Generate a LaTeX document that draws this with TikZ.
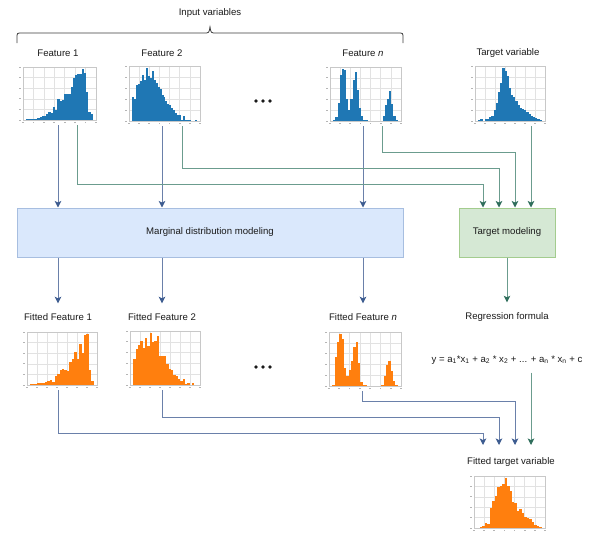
\documentclass[tikz,border=0pt]{standalone}
\usepackage{fontspec}
\setmainfont{Liberation Sans}
\usetikzlibrary{arrows.meta,calc}
\definecolor{histblue}{HTML}{1F77B4}
\definecolor{historange}{HTML}{FF7F0E}
\definecolor{gridc}{HTML}{E2E2E2}
\definecolor{framec}{HTML}{C8C8C8}
\definecolor{tickc}{HTML}{B5B5B5}
\definecolor{bline}{HTML}{6A80AA}
\definecolor{bhead}{HTML}{3D5C90}
\definecolor{gline}{HTML}{6B9C8E}
\definecolor{ghead}{HTML}{2F6E5C}
\definecolor{mfill}{HTML}{DAE8FC}
\definecolor{mdraw}{HTML}{A7BEE0}
\definecolor{tfill}{HTML}{D5E8D4}
\definecolor{tdraw}{HTML}{A3CC8E}
\definecolor{txt}{HTML}{1A1A1A}
\newcommand\hist[7]{%
  \node[inner sep=0pt, minimum width={(#3-#2+6)*1pt}, minimum height={(#5-#4+5)*1pt}] (#1) at ({(#2+#3-6)/2},{(#4+#5+5)/2}) {};
  \foreach \i in {1,...,6} \draw[gridc, line width=0.5pt] ({#2+\i*(#3-#2)/7},#4) -- ++(0,{#5-#4});
  \foreach \i in {1,...,4} \draw[gridc, line width=0.5pt] (#2,{#4+\i*(#5-#4)/5}) -- (#3,{#4+\i*(#5-#4)/5});
  \gdef\histN{0}%
  \foreach \hv in {#7}{\xdef\histN{\the\numexpr\histN+1\relax}}%
  \foreach \hv [count=\k] in {#7}{\fill[#6] ({#2+(#3-#2)*(0.045+0.91*(\k-1)/\histN)},#5) rectangle ({#2+(#3-#2)*(0.045+0.91*\k/\histN)},{#5-\hv*(#5-#4)*0.96});}
  \draw[framec, line width=0.5pt] (#2,#4) rectangle (#3,#5);
  \foreach \i in {0,...,7} \fill[tickc] ({#2+\i*(#3-#2)/7-0.9},{#5+2.2}) rectangle ++(1.8,1.1);
  \foreach \i in {0,...,5} \fill[tickc] ({#2-4.5},{#5-\i*(#5-#4)/5-0.5}) rectangle ++(2.8,1.1);
}
\tikzset{
  lbl/.style={font=\fontsize{9.6}{11}\selectfont, text=txt, inner sep=2pt},
  barrow/.style={draw=bline, line width=1pt, -{Stealth[length=6.5pt,width=6.5pt,inset=1.5pt,color=bhead]}},
  garrow/.style={draw=gline, line width=1pt, -{Stealth[length=6.5pt,width=6.5pt,inset=1.5pt,color=ghead]}},
  mbox/.style={draw=mdraw, fill=mfill, line width=1pt, font=\fontsize{9.6}{11}\selectfont, text=txt, inner sep=0pt},
  tbox/.style={draw=tdraw, fill=tfill, line width=1pt, font=\fontsize{9.6}{11}\selectfont, text=txt, inner sep=0pt},
}
\begin{document}
\begin{tikzpicture}[x=1pt,y=-1pt]
\useasboundingbox (0,0) rectangle (590,533);
% brace
\node[lbl] (iv) at (210,13) {Input variables};
\draw[draw=txt!85, line width=0.8pt] (17,43) -- (17,38) .. controls (17,33) .. (22,33) -- (204,33) .. controls (209,33) .. (210,27) .. controls (211,33) .. (216,33) -- (398,33) .. controls (403,33) .. (403,38) -- (403,43);
% top labels
\node[lbl] (l1) at (58,53) {Feature 1};
\node[lbl] (l2) at (162,53) {Feature 2};
\node[lbl] (ln) at (363,53) {Feature \textit{n}};
\node[lbl] (lt) at (508,53) {Target variable};
% top histograms
\hist{h1}{23}{96}{67}{120}{histblue}{0.01,0.01,0.01,0.01,0.02,0.03,0.05,0.07,0.08,0.12,0.15,0.13,0.25,0.2,0.42,0.38,0.4,0.52,0.52,0.52,0.65,0.82,0.88,0.9,0.9,1.0,0.92,0.55,0.15,0.12}
\hist{h2}{129}{200}{66}{121}{histblue}{0.45,0.42,0.68,0.7,0.75,0.88,0.78,1.0,0.85,0.82,0.95,0.78,0.72,0.65,0.6,0.5,0.45,0.38,0.32,0.3,0.25,0.2,0.15,0.12,0.12,0.02,0.1,0.02,0.02,0.01,0.0,0.0,0.02}
\hist{hn}{330}{401}{67}{121}{histblue}{0.02,0.08,0.35,0.88,1.0,0.98,0.42,0.22,0.42,0.8,0.95,0.6,0.25,0.1,0.02,0.01,0,0,0,0,0,0,0,0.1,0.3,0.42,0.58,0.32,0.1,0.02}
\hist{ht}{475}{545}{66}{121}{histblue}{0.02,0.03,0.0,0.04,0.04,0.07,0.1,0.2,0.35,0.55,0.72,1.0,0.95,0.85,0.62,0.5,0.45,0.38,0.3,0.25,0.22,0.2,0.17,0.13,0.1,0.08,0.05,0.03,0.01}
% dots
\foreach \dx in {256,263,270} \fill[txt] (\dx,101) circle (1.8);
\foreach \dx in {256,263,270} \fill[txt] (\dx,367) circle (1.8);
% boxes
\node[mbox, minimum width=386pt, minimum height=49pt] (mb) at (210,232.5) {Marginal distribution modeling};
\node[tbox, minimum width=96pt, minimum height=49pt] (tm) at (507,232.5) {Target modeling};
\coordinate (t1) at ([xshift=-24pt]tm.north);
\coordinate (t2) at ([xshift=-8pt]tm.north);
\coordinate (t3) at ([xshift=8pt]tm.north);
\coordinate (t4) at ([xshift=24pt]tm.north);
\coordinate (k1) at (77,184);
\coordinate (k2) at (182,168);
\coordinate (kn) at (382,152);
% top connectors
\draw[barrow] (h1.south -| l1) -- (mb.north -| l1);
\draw[barrow] (h2.south -| l2) -- (mb.north -| l2);
\draw[barrow] (hn.south -| ln) -- (mb.north -| ln);
\draw[garrow] (h1.south -| k1) -- (k1) -| (t1);
\draw[garrow] (h2.south -| k2) -- (k2) -| (t2);
\draw[garrow] (hn.south -| kn) -- (kn) -| (t3);
\draw[garrow] (ht.south -| t4) -- (t4);
% fitted labels
\node[lbl] (fl1) at (58,317) {Fitted Feature 1};
\node[lbl] (fl2) at (162,317) {Fitted Feature 2};
\node[lbl] (fln) at (363,317) {Fitted Feature \textit{n}};
\node[lbl] (rf) at (507,317) {Regression formula};
\node[lbl] (fm) at (507,360) {y = a\textsubscript{1}*x\textsubscript{1} + a\textsubscript{2} * x\textsubscript{2} + ... + a\textsubscript{n} * x\textsubscript{n} + c};
\draw[barrow] (mb.south -| fl1) -- ([yshift=8pt]fl1.north);
\draw[barrow] (mb.south -| fl2) -- ([yshift=8pt]fl2.north);
\draw[barrow] (mb.south -| ln) -- ([yshift=8pt]fln.north -| ln);
\draw[garrow] (tm.south) -- ([yshift=8pt]rf.north);
% fitted histograms
\hist{f1}{27}{97}{332}{385}{historange}{0.01,0.02,0.01,0.03,0.03,0.04,0.05,0.07,0.09,0.06,0.17,0.22,0.3,0.32,0.3,0.27,0.45,0.52,0.65,0.52,0.8,0.62,0.98,1.0,0.3,0.08}
\hist{f2}{130}{200}{331}{385}{historange}{0.5,0.7,0.78,0.85,0.72,0.9,0.75,1.0,0.82,0.85,0.95,0.55,0.55,0.55,0.4,0.3,0.28,0.2,0.18,0.12,0.08,0.12,0.02,0.04,0.0,0.03,0.0}
\hist{fn}{329}{401}{332}{386}{historange}{0.02,0.55,0.85,1.0,0.9,0.35,0.2,0.3,0.48,0.75,0.85,0.45,0.08,0.02,0.01,0,0,0,0,0,0,0.01,0.2,0.4,0.48,0.28,0.1,0.02}
% fitted target
\node[lbl] (ftl) at (511,462) {Fitted target variable};
\hist{ft}{474}{545}{476}{528}{historange}{0.01,0.02,0.05,0.1,0.08,0.4,0.55,0.65,0.82,0.85,0.88,1.0,0.85,0.75,0.52,0.5,0.35,0.38,0.3,0.22,0.2,0.18,0.12,0.06,0.05,0.02}
% bottom connectors
\coordinate (u1) at (483,445);
\coordinate (u2) at (499,445);
\coordinate (u3) at (515,445);
\coordinate (u4) at (531,445);
\coordinate (m1) at (58,433);
\coordinate (m2) at (162,417);
\coordinate (mn) at (362,401);
\draw[barrow] (f1.south -| m1) -- (m1) -| (u1);
\draw[barrow] (f2.south -| m2) -- (m2) -| (u2);
\draw[barrow] (fn.south -| mn) -- (mn) -| (u3);
\draw[garrow] ([yshift=-6pt]fm.south -| u4) -- (u4);
\end{tikzpicture}
\end{document}
